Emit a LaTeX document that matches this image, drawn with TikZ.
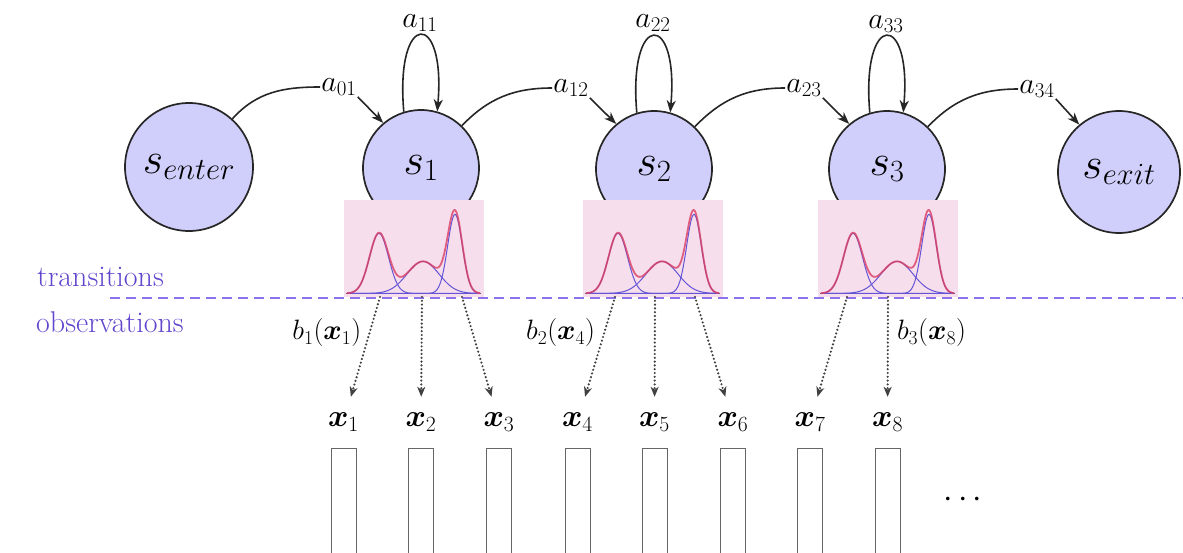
\RequirePackage{fix-cm}
\documentclass[tikz,border=0pt]{standalone}
\usepackage{bm}
\usetikzlibrary{arrows.meta,calc}
\definecolor{statefill}{RGB}{208,206,250}
\definecolor{pinkbg}{RGB}{247,222,236}
\definecolor{labpurple}{RGB}{98,70,205}
\definecolor{sepcol}{RGB}{140,115,235}
\definecolor{curvered}{RGB}{218,62,100}
\definecolor{compblue}{RGB}{100,85,215}
\begin{document}
\begin{tikzpicture}[x=1pt,y=1pt,
  state/.style={circle,draw=black!85,line width=1.7pt,fill=statefill,inner sep=0pt,minimum size=116pt,font=\fontsize{44}{50}\selectfont},
  alab/.style={inner sep=1pt,font=\fontsize{30}{34}\selectfont},
  trans/.style={line width=1.6pt,draw=black!85},
  arr/.style={-{Stealth[length=12pt,width=9pt,inset=3.5pt]}},
  gbox/.style={rectangle,fill=pinkbg,draw=none,minimum width=140pt,minimum height=97pt,inner sep=0pt,anchor=north west},
  sepline/.style={draw=sepcol,line width=1.8pt,dash pattern=on 10pt off 6pt},
  side/.style={text=labpurple,font=\fontsize{30}{34}\selectfont,inner sep=0pt,anchor=base west},
  emis/.style={line width=2.4pt,draw=black!75,line cap=round,dash pattern=on 0pt off 3.8pt,-{Stealth[length=10pt,width=8pt,inset=3pt]}},
  xlab/.style={inner sep=0pt,minimum height=50pt,minimum width=30pt,font=\fontsize{31}{34}\selectfont},
  blab/.style={inner sep=0pt,font=\fontsize{28}{32}\selectfont},
  obsrect/.style={rectangle,draw=black!60,line width=0.9pt,fill=white,minimum width=25pt,minimum height=130pt,inner sep=0pt,anchor=north},
  declare function={
    ga(\t)=60*exp(-((\t-35)/9.5)*((\t-35)/9.5)/2);
    gb(\t)=32*exp(-((\t-79)/16)*((\t-79)/16)/2);
    gc(\t)=79*exp(-((\t-111)/7.3)*((\t-111)/7.3)/2);
  }]
\useasboundingbox (0,0) rectangle (1183,-553);
\clip (0,0) rectangle (1183,-553);

% states
\node[state,minimum size=128pt] (s0) at (189,-167) {$s_{enter}$};
\node[state] (s1) at (421,-168) {$s_1$};
\node[state] (s2) at (654,-169) {$s_2$};
\node[state] (s3) at (887,-169) {$s_3$};
\node[state,minimum size=122pt] (s4) at (1119,-172) {$s_{exit}$};

% emission boxes
\node[gbox] (g1) at (344,-200) {};
\node[gbox] (g2) at (583,-200) {};
\node[gbox] (g3) at (818,-200) {};
\foreach \g in {g1,g2,g3}{
  \begin{scope}[shift={($(\g.south west)+(0,4)$)}]
    \draw[black!60,line width=1.2pt] (2,0) -- (137,0);
    \draw[compblue,line width=1pt] plot[domain=3:136,samples=120,smooth] (\x,{ga(\x)});
    \draw[compblue,line width=1pt] plot[domain=3:136,samples=120,smooth] (\x,{gb(\x)});
    \draw[compblue,line width=1pt] plot[domain=3:136,samples=120,smooth] (\x,{gc(\x)});
    \draw[curvered,line width=1.8pt,opacity=0.8] plot[domain=3:136,samples=160,smooth] (\x,{ga(\x)+gb(\x)+gc(\x)});
  \end{scope}
}

% transition labels
\node[alab] (a01) at (339,-87) {$a_{01}$};
\node[alab] (a12) at (571,-88) {$a_{12}$};
\node[alab] (a23) at (804,-88) {$a_{23}$};
\node[alab] (a34) at (1037,-89) {$a_{34}$};
\node[alab] (a11) at (420,-23) {$a_{11}$};
\node[alab] (a22) at (653,-23) {$a_{22}$};
\node[alab] (a33) at (886,-24) {$a_{33}$};

% transitions between states
\draw[trans] (s0.48) to[out=48,in=180] (a01.west);
\draw[trans,arr] (a01.south east) -- (s1.130);
\draw[trans] (s1.46) to[out=46,in=180] (a12.west);
\draw[trans,arr] (a12.south east) -- (s2.130);
\draw[trans] (s2.46) to[out=46,in=180] (a23.west);
\draw[trans,arr] (a23.south east) -- (s3.130);
\draw[trans] (s3.46) to[out=46,in=180] (a34.west);
\draw[trans,arr] (a34.south east) -- (s4.130);

% self loops
\draw[trans,arr] (s1.107) .. controls +(-9,102) and +(9,102) .. (s1.74);
\draw[trans,arr] (s2.107) .. controls +(-9,102) and +(9,102) .. (s2.74);
\draw[trans,arr] (s3.107) .. controls +(-9,102) and +(9,102) .. (s3.74);

% separator
\coordinate (dl) at (110,-298);
\coordinate (dr) at (1190,-298);
\draw[sepline] (dl) -- (dr);
\node[side] (tr) at (37,-287) {transitions};
\node[side] (ob) at (36,-332) {observations};

% observation labels and frames
\foreach \i/\xx in {1/343.5,2/421,3/499,4/577.5,5/654.5,6/733,7/810,8/887.5}{
  \node[xlab] (x\i) at (\xx,-422) {$\bm{x}_{\i}$};
  \node[obsrect] (r\i) at (\xx,-448) {};
}
\node[inner sep=0pt,font=\fontsize{34}{38}\selectfont] (dots) at (963,-500) {$\mathord{\cdot}\kern5pt\mathord{\cdot}\kern5pt\mathord{\cdot}$};

% emission start points
\coordinate (e1) at (380,-297);
\coordinate (e2) at (422,-297);
\coordinate (e3) at (462,-297);
\coordinate (e4) at (615,-297);
\coordinate (e5) at (655,-297);
\coordinate (e6) at (695,-297);
\coordinate (e7) at (847,-297);
\coordinate (e8) at (888,-297);

\draw[emis] (e1) -- (x1) node[blab,pos=0.36,anchor=east,xshift=-7pt] (b1) {$b_1(\bm{x}_1)$};
\draw[emis] (e2) -- (x2);
\draw[emis] (e3) -- (x3);
\draw[emis] (e4) -- (x4) node[blab,pos=0.36,anchor=east,xshift=-8pt] (b2) {$b_2(\bm{x}_4)$};
\draw[emis] (e5) -- (x5);
\draw[emis] (e6) -- (x6);
\draw[emis] (e7) -- (x7);
\draw[emis] (e8) -- (x8) node[blab,pos=0.36,anchor=west,xshift=8pt] (b3) {$b_3(\bm{x}_8)$};
\end{tikzpicture}
\end{document}
